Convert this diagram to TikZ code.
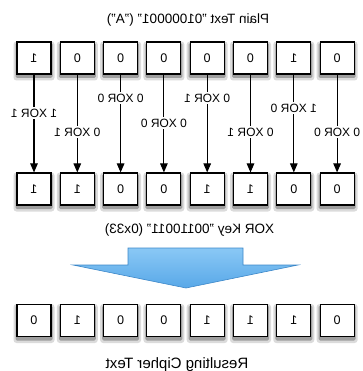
\documentclass[tikz,border=0pt]{standalone}
\usepackage{fontspec}
\setmainfont{Liberation Sans}
\usetikzlibrary{arrows.meta}
\definecolor{blueA}{RGB}{138,200,245}
\definecolor{blueB}{RGB}{88,168,232}
\definecolor{blueE}{RGB}{60,135,200}
\tikzset{
  bitbox/.style={draw=black, line width=1.1pt, fill=white, minimum width=34pt, minimum height=32pt, inner sep=0pt, font=\fontsize{12.5}{14}\selectfont, xscale=-1},
  shadowouter/.style={draw=none, fill=black!14, rounded corners=3pt, minimum width=41pt, minimum height=39pt, inner sep=0pt},
  shadowinner/.style={draw=none, fill=black!38, rounded corners=1.5pt, minimum width=37pt, minimum height=35pt, inner sep=0pt},
  xorlab/.style={fill=white, inner sep=1.5pt, font=\fontsize{12}{14}\selectfont, xscale=-1},
  caption/.style={font=\fontsize{13.5}{16}\selectfont, xscale=-1, inner sep=0pt},
  conn/.style={line width=1.1pt, -{Triangle[width=7.5pt,length=9pt]}},
}
\begin{document}
\begin{tikzpicture}[x=1pt, y=-1pt]
\useasboundingbox (0,0) rectangle (362,371);
\node[caption] (title) at (188,20) {Plain Text "01000001" ("A")};
\node[caption] (keycap) at (189.5,230) {XOR Key "00110011" (0x33)};
\node[caption, font=\fontsize{15}{17}\selectfont] (rescap) at (177,365) {Resulting Cipher Text};
\foreach \i/\p/\k/\r/\ly/\lab in {
  1/1/1/0/113/1 XOR 1,
  2/0/1/1/132/0 XOR 1,
  3/0/0/0/98/0 XOR 0,
  4/0/0/0/123/0 XOR 0,
  5/0/1/1/98/0 XOR 1,
  6/0/1/1/132/0 XOR 1,
  7/1/0/1/108/1 XOR 0,
  8/0/0/0/132/0 XOR 0}{
  \pgfmathsetmacro{\bx}{34+43.3*(\i-1)}
  \node[shadowouter] (so\i a) at (\bx,61) {};
  \node[shadowinner] (si\i a) at (\bx,60.5) {};
  \node[shadowouter] (so\i b) at (\bx,192) {};
  \node[shadowinner] (si\i b) at (\bx,191.5) {};
  \node[shadowouter] (so\i c) at (\bx,323.5) {};
  \node[shadowinner] (si\i c) at (\bx,323) {};
  \node[bitbox] (p\i) at (\bx,58) {\p};
  \node[bitbox] (k\i) at (\bx,189) {\k};
  \node[bitbox] (r\i) at (\bx,320.5) {\r};
  \draw[conn] (p\i) -- (k\i);
  \node[xorlab] (l\i) at (\bx,\ly) {\lab};
}
\draw[draw=blueE, line width=0.6pt, top color=blueA, bottom color=blueB, shading angle=0]
  (128,248) -- (243,248) -- (243,265) -- (298,265) -- (186,288) -- (73,265) -- (128,265) -- cycle;
\end{tikzpicture}
\end{document}
